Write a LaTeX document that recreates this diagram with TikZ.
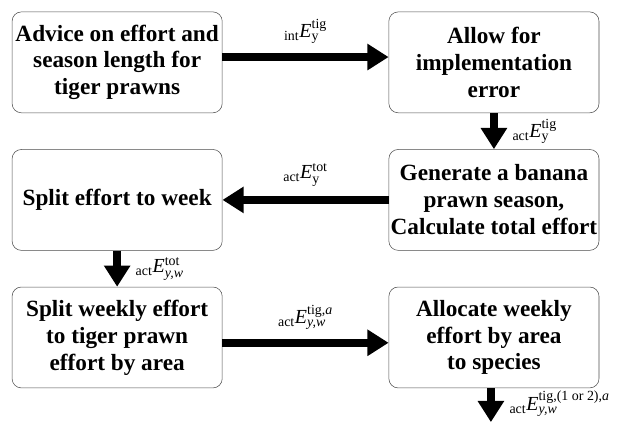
\documentclass[tikz,border=0pt]{standalone}
\usepackage{amsmath}
\usepackage{fontspec}
\setmainfont{Liberation Serif}
\usepackage{tikz}
\usetikzlibrary{arrows.meta}
\tikzset{
    box/.style={draw=black!70,rounded corners=7pt,minimum width=5.56cm,minimum height=2.67cm,
        align=center,inner sep=1pt,font=\bfseries\fontsize{17.5}{20.25}\selectfont},
    flow/.style={line width=6pt,-{Triangle[length=16pt,width=19pt]}},
    lbl/.style={font=\fontsize{15}{17}\selectfont,inner sep=1pt},
}

\begin{document}
\begin{tikzpicture}
    \useasboundingbox (0,0) rectangle (16.75,11.17);
    \node[box] (advice) at (3.10,9.52) {Advice on effort and\\season length for\\tiger prawns};
    \node[box] (implerr) at (13.07,9.52) {Allow for\\implementation\\error};
    \node[box] (season) at (13.07,5.88) {Generate a banana\\prawn season,\\Calculate total effort};
    \node[box] (week) at (3.10,5.88) {Split effort to week};
    \node[box] (area) at (3.10,2.24) {Split weekly effort\\to tiger prawn\\effort by area};
    \node[box] (species) at (13.07,2.24) {Allocate weekly\\effort by area\\to species};
    \coordinate (out) at (12.99,0);
    \draw[flow] ([yshift=4pt]advice.east) -- ([yshift=4pt]implerr.west)
        node[lbl,midway,above=6pt] {${}_{\text{int}}\textit{E}^{\text{tig}}_{\text{y}}$};
    \draw[flow] (implerr) -- (season)
        node[lbl,midway,right=10pt] {${}_{\text{act}}\textit{E}^{\text{tig}}_{\text{y}}$};
    \draw[flow] (season) -- (week)
        node[lbl,midway,above=6pt] {${}_{\text{act}}\textit{E}^{\text{tot}}_{\text{y}}$};
    \draw[flow] (week) -- (area)
        node[lbl,midway,right=10pt] {${}_{\text{act}}\textit{E}^{\text{tot}}_{\textit{y,w}}$};
    \draw[flow] ([yshift=-4pt]area.east) -- ([yshift=-4pt]species.west)
        node[lbl,midway,above=6pt] {${}_{\text{act}}\textit{E}^{\text{tig,}\textit{a}}_{\textit{y,w}}$};
    \draw[flow] (species.south -| out) -- (out)
        node[lbl,pos=0.45,right=10pt] {${}_{\text{act}}\textit{E}^{\text{tig,(1 or 2),}\textit{a}}_{\textit{y,w}}$};
\end{tikzpicture}
\end{document}
